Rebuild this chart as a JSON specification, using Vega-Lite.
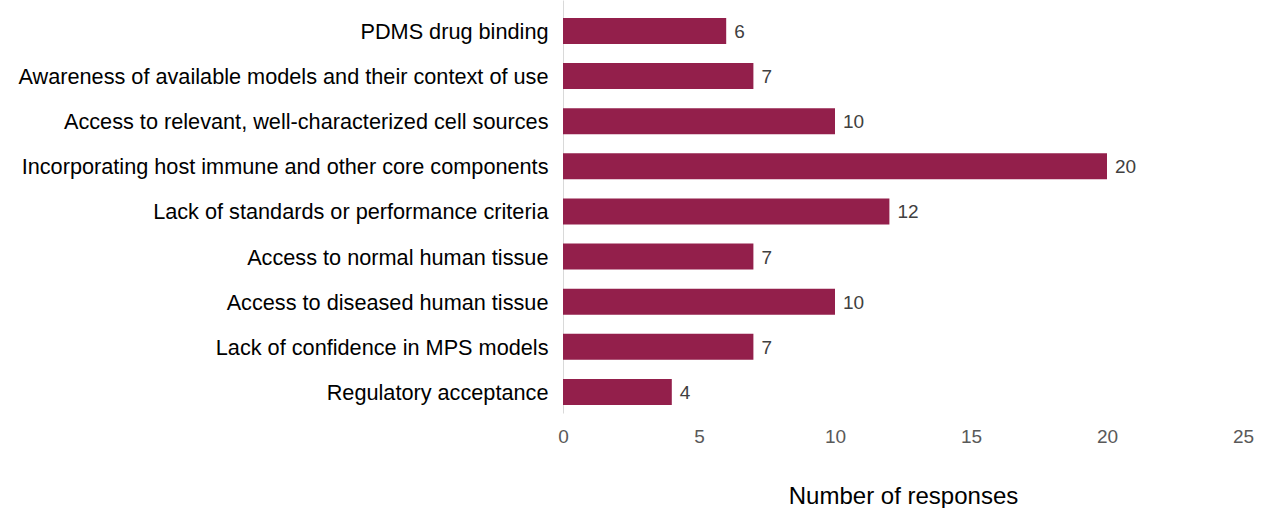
{
  "$schema": "https://vega.github.io/schema/vega-lite/v6.json",
  "width": 680,
  "height": 413,
  "autosize": {"type": "none"},
  "padding": {"left": 563, "top": 0, "right": 36, "bottom": 95},
  "background": "white",
  "config": {"view": {"stroke": null}, "font": "Liberation Sans"},
  "data": {"values": [
    {"category": "PDMS drug binding", "responses": 6},
    {"category": "Awareness of available models and their context of use", "responses": 7},
    {"category": "Access to relevant, well-characterized cell sources", "responses": 10},
    {"category": "Incorporating host immune and other core components", "responses": 20},
    {"category": "Lack of standards or performance criteria", "responses": 12},
    {"category": "Access to normal human tissue", "responses": 7},
    {"category": "Access to diseased human tissue", "responses": 10},
    {"category": "Lack of confidence in MPS models", "responses": 7},
    {"category": "Regulatory acceptance", "responses": 4}
  ]},
  "encoding": {
    "y": {
      "field": "category", "type": "nominal", "sort": null,
      "scale": {"paddingInner": 0.424, "paddingOuter": 0.288, "align": 0.69},
      "axis": {"title": null, "ticks": false, "domainColor": "#d9d9d9", "domainWidth": 1,
               "labelFontSize": 21.7, "labelColor": "#000000", "labelPadding": 15, "labelLimit": 600, "labelOffset": 1}
    },
    "x": {
      "field": "responses", "type": "quantitative",
      "scale": {"domain": [0, 25], "nice": false},
      "axis": {"title": "Number of responses", "values": [0, 5, 10, 15, 20, 25], "grid": false,
               "domain": false, "ticks": false, "labelFlush": false, "labelFontSize": 19, "labelColor": "#595959",
               "labelPadding": 14, "titleFontSize": 24, "titleFontWeight": "normal",
               "titleColor": "#000000", "titlePadding": 38}
    }
  },
  "layer": [
    {"mark": {"type": "bar", "color": "#931f4b"}},
    {"mark": {"type": "text", "align": "left", "baseline": "middle", "dx": 8, "dy": 1, "fontSize": 19, "color": "#404040"},
     "encoding": {"text": {"field": "responses", "type": "quantitative"}}}
  ]
}
